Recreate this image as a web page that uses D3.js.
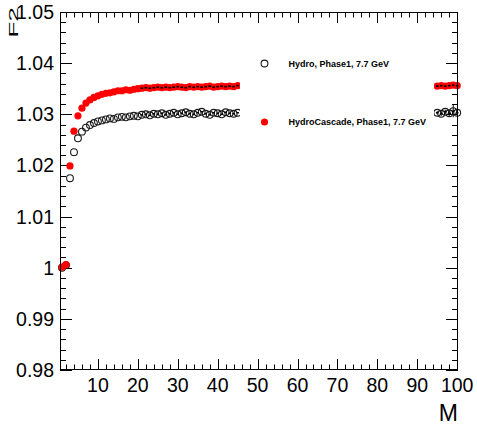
<!DOCTYPE html>
<html><head><meta charset="utf-8">
<script src="https://cdn.jsdelivr.net/npm/d3@7"></script>
<style>body{margin:0;background:#fff}svg{display:block}text{font-family:"Liberation Sans",Arial,sans-serif}</style>
</head><body>
<svg id="c" width="477" height="427"></svg>
<script>
// ---- data ----
const hydroM = [1,2,3,4,5,6,7,8,9,10,11,12,13,14,15,16,17,18,19,20,21,22,23,24,25,26,27,28,29,30,31,32,33,34,35,36,37,38,39,40,41,42,43,44,45,95,96,97,98,99,100];
const hydroF2 = [1.0000,1.0005,1.0175,1.0226,1.0253,1.0266,1.0274,1.0279,1.0283,1.0286,1.0288,1.0290,1.0292,1.0291,1.0294,1.0295,1.0294,1.0296,1.0297,1.0296,1.0299,1.0300,1.0298,1.0301,1.0300,1.0302,1.0299,1.0301,1.0303,1.0300,1.0302,1.0304,1.0301,1.0300,1.0303,1.0305,1.0301,1.0299,1.0303,1.0302,1.0300,1.0304,1.0302,1.0301,1.0303,1.0303,1.0301,1.0305,1.0302,1.0306,1.0303];
const hydroErr = [0,0,0,0,0,0,0,0,0,0,0,0,0,0,0,0,0,0,0,0,0,0,0,0,0,0,0,0,0,0,0,0,0,0,0,0,0,0,0,0,0,0,0,0,0,0.0003,0.0004,0.0004,0.0006,0.0012,0.0005];
const cascM = [1,2,3,4,5,6,7,8,9,10,11,12,13,14,15,16,17,18,19,20,21,22,23,24,25,26,27,28,29,30,31,32,33,34,35,36,37,38,39,40,41,42,43,44,45,95,96,97,98,99,100];
const cascF2 = [1.0001,1.0006,1.0199,1.0267,1.0297,1.0312,1.0322,1.0328,1.0333,1.0336,1.0339,1.0341,1.0342,1.0344,1.0346,1.0346,1.0348,1.0347,1.0349,1.0350,1.0351,1.0352,1.0351,1.0352,1.0353,1.0352,1.0353,1.0352,1.0353,1.0354,1.0353,1.0352,1.0354,1.0353,1.0354,1.0353,1.0354,1.0355,1.0353,1.0354,1.0355,1.0354,1.0355,1.0354,1.0356,1.0355,1.0356,1.0355,1.0356,1.0357,1.0356];
const xMajorTicks = [10,20,30,40,50,60,70,80,90,100];
const xMinorTicks = [2,4,6,8,12,14,16,18,22,24,26,28,32,34,36,38,42,44,46,48,52,54,56,58,62,64,66,68,72,74,76,78,82,84,86,88,92,94,96,98];
const yMajorTicks = [0.98,0.99,1.00,1.01,1.02,1.03,1.04,1.05];
const yTickLabels = ["0.98","0.99","1","1.01","1.02","1.03","1.04","1.05"];
const yMinorTicks = [0.982,0.984,0.986,0.988,0.992,0.994,0.996,0.998,1.002,1.004,1.006,1.008,1.012,1.014,1.016,1.018,1.022,1.024,1.026,1.028,1.032,1.034,1.036,1.038,1.042,1.044,1.046,1.048];
const legendLabels = ["Hydro, Phase1, 7.7 GeV","HydroCascade, Phase1, 7.7 GeV"];

// ---- layout ----
const svg = d3.select("#c");
const L=60,R=458,T=12,B=370;
const x = d3.scaleLinear().domain([0.5,100.2]).range([L,R]);
const y = d3.scaleLinear().domain([0.98,1.05]).range([B,T]);

// ticks
const g = svg.append("g").attr("stroke","#000").attr("stroke-width",1);
function hticks(vals,len){
  vals.forEach(v=>{
    const px=Math.round(x(v))+0.5;
    g.append("line").attr("x1",px).attr("x2",px).attr("y1",B).attr("y2",B-len);
    g.append("line").attr("x1",px).attr("x2",px).attr("y1",T).attr("y2",T+len);
  });
}
function vticks(vals,len){
  vals.forEach(v=>{
    const py=Math.round(y(v))+0.5;
    g.append("line").attr("x1",L).attr("x2",L+len).attr("y1",py).attr("y2",py);
    g.append("line").attr("x1",R).attr("x2",R-len).attr("y1",py).attr("y2",py);
  });
}
hticks(xMajorTicks,11); hticks(xMinorTicks,5.5);
vticks(yMajorTicks,12); vticks(yMinorTicks,6);

// data
const hydro = hydroM.map((m,i)=>({m,v:hydroF2[i],e:hydroErr[i]}));
const casc = cascM.map((m,i)=>({m,v:cascF2[i]}));
const pts = svg.append("g");
pts.selectAll(".eb").data(hydro.filter(d=>d.e>0)).join("line")
  .attr("x1",d=>x(d.m)).attr("x2",d=>x(d.m))
  .attr("y1",d=>y(d.v+d.e)).attr("y2",d=>y(d.v-d.e))
  .attr("stroke","#000").attr("stroke-width",1);
pts.selectAll(".h").data(hydro).join("circle")
  .attr("cx",d=>x(d.m)).attr("cy",d=>y(d.v)).attr("r",3.4)
  .attr("fill","none").attr("stroke","#1a1a1a").attr("stroke-width",1.1);
pts.selectAll(".hd").data(hydro.filter(d=>d.m>=21)).join("line")
  .attr("x1",d=>x(d.m)-1.3).attr("x2",d=>x(d.m)+1.3)
  .attr("y1",d=>y(d.v)).attr("y2",d=>y(d.v))
  .attr("stroke","#000").attr("stroke-width",1.5);
pts.selectAll(".c").data(casc).join("circle")
  .attr("cx",d=>x(d.m)).attr("cy",d=>y(d.v)).attr("r",3.6)
  .attr("fill","#ff0000");
pts.selectAll(".cd").data(casc.filter(d=>d.m>=21)).join("line")
  .attr("x1",d=>x(d.m)-1.3).attr("x2",d=>x(d.m)+1.3)
  .attr("y1",d=>y(d.v)).attr("y2",d=>y(d.v))
  .attr("stroke","#000").attr("stroke-width",1.6);

// frame
svg.append("rect").attr("x",L+0.5).attr("y",T+0.5).attr("width",R-L-1).attr("height",B-T-1)
  .attr("fill","none").attr("stroke","#000").attr("stroke-width",1);

// legend (opaque box)
const lg = svg.append("g");
lg.append("rect").attr("x",240).attr("y",30).attr("width",194).attr("height",120).attr("fill","#fff");
lg.append("circle").attr("cx",264.5).attr("cy",63.5).attr("r",3.4).attr("fill","none").attr("stroke","#1a1a1a").attr("stroke-width",1.1);
lg.append("circle").attr("cx",264.5).attr("cy",122).attr("r",3.6).attr("fill","#ff0000");
lg.selectAll("text").data(legendLabels).join("text")
  .attr("x",288.5).attr("y",(d,i)=>i===0?63.5:122).attr("dy","0.35em")
  .attr("font-size",9).attr("font-weight","bold").attr("fill","#000").text(d=>d);

// tick labels
svg.append("g").selectAll("text").data(yMajorTicks).join("text")
  .attr("x",54).attr("y",d=>y(d)).attr("dy","0.36em").attr("text-anchor","end")
  .attr("font-size",19.5).attr("fill","#000").text((d,i)=>yTickLabels[i]);
svg.append("g").selectAll("text").data(xMajorTicks).join("text")
  .attr("x",d=>x(d)).attr("y",392).attr("text-anchor","middle")
  .attr("font-size",19.5).attr("fill","#000").text(d=>d);

// axis titles
svg.append("text").attr("x",458).attr("y",421).attr("text-anchor","end")
  .attr("font-size",23).attr("fill","#000").text("M");
svg.append("text").attr("transform","translate(18,7) rotate(-90) scale(1.1,0.56)")
  .attr("text-anchor","end").attr("font-size",24).attr("fill","#000").text("F2");
</script>
</body></html>
